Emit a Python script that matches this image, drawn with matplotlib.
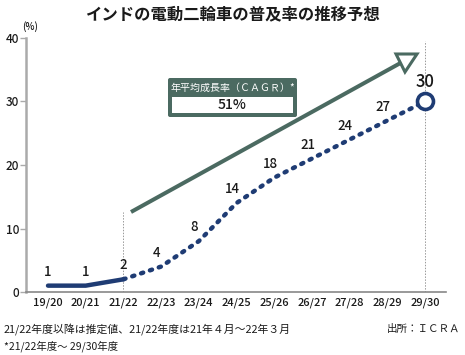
import matplotlib.pyplot as plt
from matplotlib.patches import Polygon, FancyBboxPatch, Rectangle

plt.rcParams['font.family'] = ['Noto Sans CJK JP', 'DejaVu Sans']

years = ["19/20", "20/21", "21/22", "22/23", "23/24", "24/25",
         "25/26", "26/27", "27/28", "28/29", "29/30"]
share = [1, 1, 2, 4, 8, 14, 18, 21, 24, 27, 30]
n_actual = 3  # 19/20 .. 21/22 drawn solid, the rest is forecast

title = "インドの電動二輪車の普及率の推移予想"
cagr_label = "年平均成長率（ＣＡＧＲ）*"
cagr_value = "51%"
note1 = "21/22年度以降は推定値、21/22年度は21年４月～22年３月"
note2 = "*21/22年度～ 29/30年度"
source = "出所：ＩＣＲＡ"

navy = "#1f3c74"
green = "#4b6a61"
txt = "#1a1a1a"

W, H = 465, 355
fig = plt.figure(figsize=(W / 100, H / 100), dpi=100)
ax = fig.add_axes([26 / W, 1 - 292 / H, (446 - 26) / W, (292 - 38) / H])

x = list(range(len(years)))
ax.set_xlim(-0.584, 10.56)
ax.set_ylim(0, 40)

# reference lines
ax.plot([2, 2], [0, 12.6], color="#999999", lw=0.7, ls=(0, (1.5, 1.5)), zorder=1)
ax.axvline(10, ymax=0.99, color="#999999", lw=0.7, ls=(0, (1.5, 1.5)), zorder=1)

ax.plot(x[:n_actual], share[:n_actual], color=navy, lw=3.2,
        solid_capstyle="round", zorder=3)
ax.plot(x[n_actual - 1:], share[n_actual - 1:], color=navy, lw=3.2,
        ls=(0, (0.5, 1.6)), dash_capstyle="round", zorder=3)
ax.plot(x[-1], share[-1], "o", ms=11.5, mfc="white", mec=navy, mew=2.6, zorder=5)

for i, v in enumerate(share):
    if i == len(share) - 1:
        ax.annotate(str(v), (i, v), xytext=(0, 14), textcoords="offset points",
                    ha="center", va="center", fontsize=12, color=txt,
                    fontweight="medium")
    else:
        dx = 0 if i < n_actual else -3
        ax.annotate(str(v), (i, v), xytext=(dx, 10), textcoords="offset points",
                    ha="center", va="center", fontsize=9.5, color=txt,
                    fontweight="medium")

ax.set_yticks([0, 10, 20, 30, 40])
ax.set_xticks(x, years)
ax.tick_params(axis="y", length=4, width=1, color="#aaaaaa", labelsize=8.5,
               pad=1, labelcolor=txt)
ax.tick_params(axis="x", length=0, pad=4, labelsize=8, labelcolor=txt)
for lab in ax.get_xticklabels() + ax.get_yticklabels():
    lab.set_fontweight("medium")
for s in ["top", "right"]:
    ax.spines[s].set_visible(False)
ax.spines["left"].set_color("#aaaaaa")
ax.spines["left"].set_linewidth(1.8)
ax.spines["bottom"].set_color("#888888")
ax.spines["bottom"].set_linewidth(1.2)

# overlay in pixel coordinates for the annotation graphics
ov = fig.add_axes([0, 0, 1, 1])
ov.set_xlim(0, W)
ov.set_ylim(H, 0)
ov.axis("off")

ov.plot([131, 400.5], [212, 63], color=green, lw=2.9, solid_capstyle="butt")
ov.add_patch(Polygon([(396, 54), (417, 54), (405, 72)], closed=True,
                     facecolor="white", edgecolor=green, lw=2.2, joinstyle="miter"))

ov.add_patch(FancyBboxPatch((168, 78), 129, 39, boxstyle="round,pad=0,rounding_size=2",
                            facecolor=green, edgecolor="none"))
ov.add_patch(Rectangle((172, 97), 121, 16, facecolor="white", edgecolor="none"))
ov.text(233, 87.5, cagr_label, ha="center", va="center", fontsize=7.2, color="white")
ov.text(232.5, 105, cagr_value, ha="center", va="center", fontsize=10, color=txt,
        fontweight="medium")

ov.text(W / 2, 14, title, ha="center", va="center", fontsize=11.8,
        fontweight="bold", color=txt)
ov.text(30, 27, "(%)", ha="center", va="center", fontsize=7, color=txt,
        fontweight="medium")
ov.text(4, 329, note1, ha="left", va="center", fontsize=7.8, color=txt)
ov.text(4, 346, note2, ha="left", va="center", fontsize=7.5, color=txt)
ov.text(460, 329, source, ha="right", va="center", fontsize=7.6, color=txt)

fig.savefig("out.png", dpi=100)
